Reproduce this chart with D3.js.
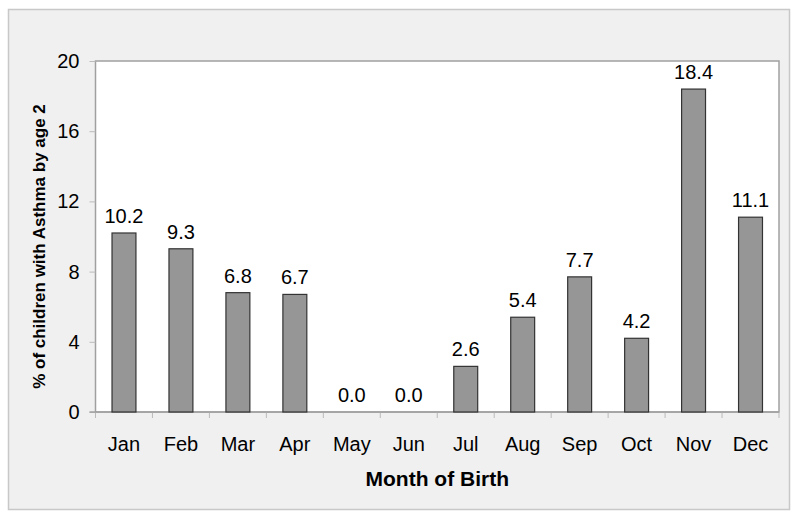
<!DOCTYPE html>
<html>
<head>
<style>
  body { margin: 0; background: #fff; }
  svg { display: block; font-family: 'Liberation Sans', Arial, sans-serif; }
</style>
</head>
<body>
<script src='https://cdnjs.cloudflare.com/ajax/libs/d3/7.8.5/d3.min.js'></script>
<script>
const months = ['Jan','Feb','Mar','Apr','May','Jun','Jul','Aug','Sep','Oct','Nov','Dec'];
const asthma = [10.2, 9.3, 6.8, 6.7, 0.0, 0.0, 2.6, 5.4, 7.7, 4.2, 18.4, 11.1];
const yTicks = [0, 4, 8, 12, 16, 20];

const W = 800, H = 519;
const margin = { left: 95.5, right: 21, top: 61, bottom: 107 };
const w = W - margin.left - margin.right;
const h = H - margin.top - margin.bottom;

const svg = d3.select('body').append('svg')
    .attr('width', W)
    .attr('height', H);

// outer frame
svg.append('rect')
    .attr('x', 8.5).attr('y', 9.5)
    .attr('width', 781).attr('height', 500)
    .attr('fill', '#f0f0f0')
    .attr('stroke', '#c8c8c8')
    .attr('stroke-width', 1.5);

const g = svg.append('g')
    .attr('transform', 'translate(' + margin.left + ',' + margin.top + ')');

const x = d3.scaleBand().domain(months).range([0, w]).paddingInner(0.58).paddingOuter(0.29);
const y = d3.scaleLinear().domain([0, 20]).range([h, 0]);

g.append('rect')
    .attr('width', w).attr('height', h)
    .attr('fill', '#fff')
    .attr('stroke', '#a0a0a0')
    .attr('stroke-width', 1.5);

// y axis
const yAxis = g.append('g')
    .call(d3.axisLeft(y).tickValues(yTicks).tickSize(6).tickPadding(10));
yAxis.select('.domain').remove();
yAxis.selectAll('line').attr('stroke', '#bbb');
yAxis.selectAll('text').attr('font-size', 20).attr('fill', '#000').attr('font-family', 'Liberation Sans, Arial, sans-serif');

// x axis ticks at category boundaries
const step = w / months.length;
g.append('g').selectAll('line')
    .data(d3.range(months.length + 1))
    .enter().append('line')
    .attr('x1', d => d * step).attr('x2', d => d * step)
    .attr('y1', h).attr('y2', h + 6)
    .attr('stroke', '#bbb');

g.append('line')
    .attr('x1', -6).attr('x2', w)
    .attr('y1', h).attr('y2', h)
    .attr('stroke', '#a0a0a0')
    .attr('stroke-width', 1.5);

g.append('g').selectAll('text')
    .data(months)
    .enter().append('text')
    .attr('x', d => x(d) + x.bandwidth() / 2)
    .attr('y', h + 38.5)
    .attr('text-anchor', 'middle')
    .attr('font-size', 20)
    .text(d => d);

// bars
g.append('g').selectAll('rect')
    .data(asthma)
    .enter().append('rect')
    .attr('x', (d, i) => x(months[i]))
    .attr('y', d => y(d))
    .attr('width', x.bandwidth())
    .attr('height', d => h - y(d))
    .attr('fill', '#969696')
    .attr('stroke', '#333')
    .attr('stroke-width', 1.2);

g.append('g').selectAll('text')
    .data(asthma)
    .enter().append('text')
    .attr('x', (d, i) => x(months[i]) + x.bandwidth() / 2)
    .attr('y', d => y(d) - 10)
    .attr('text-anchor', 'middle')
    .attr('font-size', 20)
    .text(d => d.toFixed(1));

// axis titles
svg.append('text')
    .attr('x', margin.left + w / 2)
    .attr('y', 486)
    .attr('text-anchor', 'middle')
    .attr('font-size', 21)
    .attr('font-weight', 'bold')
    .text('Month of Birth');

svg.append('text')
    .attr('transform', 'translate(45,246.5) rotate(-90)')
    .attr('text-anchor', 'middle')
    .attr('font-size', 17)
    .attr('font-weight', 'bold')
    .text('% of children with Asthma by age 2');
</script>
</body>
</html>
